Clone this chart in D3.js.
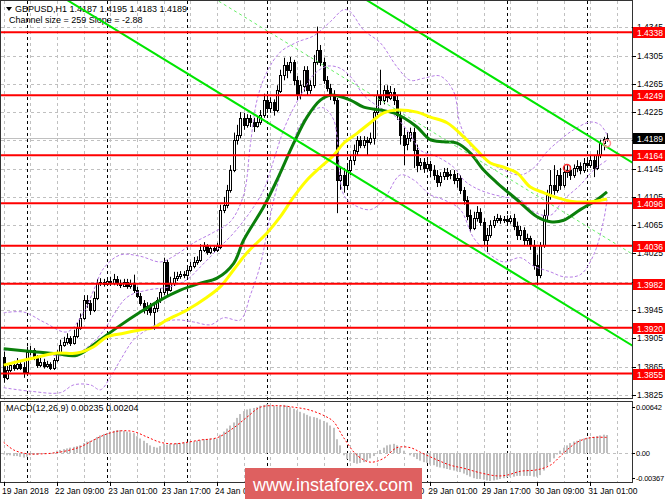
<!DOCTYPE html>
<html>
<head>
<meta charset="utf-8">
<script src="https://cdn.jsdelivr.net/npm/d3@7"></script>
<style>
body { margin: 0; background: #fff; }
svg { display: block; font-family: "Liberation Sans", Arial, sans-serif; }
</style>
</head>
<body>
<div id="chart"></div>
<script>
// GBPUSD H1 bars, 19 Jan 2018 17:00 .. 31 Jan 2018 06:00 (open = previous close)
var firstOpen = 1.3878;
var closes = [
 1.3849,1.3860,1.3867,1.3863,1.3869,1.3864,1.3857,1.3886,1.3888,1.3877,
 1.3867,1.3871,1.3866,1.3869,1.3863,1.3874,1.3886,1.3896,1.3900,1.3905,
 1.3898,1.3908,1.3920,1.3934,1.3959,1.3955,1.3945,1.3962,1.3983,1.3985,
 1.3982,1.3986,1.3983,1.3989,1.3983,1.3980,1.3985,1.3979,1.3982,1.3973,
 1.3965,1.3955,1.3945,1.3951,1.3942,1.3948,1.3959,1.3971,1.4013,1.3973,
 1.3983,1.3990,1.3993,1.3996,1.3995,1.4002,1.4007,1.4013,1.4016,1.4030,
 1.4035,1.4027,1.4033,1.4030,1.4035,1.4087,1.4094,1.4115,1.4143,1.4186,
 1.4193,1.4217,1.4207,1.4217,1.4211,1.4205,1.4211,1.4221,1.4242,1.4231,
 1.4239,1.4228,1.4256,1.4278,1.4292,1.4285,1.4296,1.4270,1.4249,1.4263,
 1.4285,1.4256,1.4263,1.4296,1.4313,1.4296,1.4270,1.4259,1.4249,1.4242,
 1.4129,1.4136,1.4122,1.4143,1.4157,1.4171,1.4186,1.4179,1.4186,1.4183,
 1.4188,1.4225,1.4249,1.4242,1.4256,1.4246,1.4254,1.4242,1.4221,1.4193,
 1.4179,1.4188,1.4197,1.4171,1.4150,1.4154,1.4146,1.4151,1.4143,1.4136,
 1.4126,1.4135,1.4140,1.4135,1.4137,1.4129,1.4132,1.4115,1.4101,1.4079,
 1.4061,1.4075,1.4084,1.4070,1.4044,1.4051,1.4065,1.4072,1.4075,1.4072,
 1.4074,1.4071,1.4075,1.4064,1.4051,1.4058,1.4044,1.4047,1.4037,1.4009,
 1.3995,1.4037,1.4079,1.4108,1.4122,1.4115,1.4136,1.4122,1.4140,1.4143,
 1.4136,1.4146,1.4149,1.4143,1.4153,1.4150,1.4157,1.4146,1.4164,1.4181,
 1.4187,1.4189
];
var highs = [
 1.3886,1.3866,1.3871,1.3873,1.3877,1.3874,1.3871,1.3893,1.3894,1.3891,
 1.3881,1.3877,1.3876,1.3873,1.3871,1.3877,1.3888,1.3903,1.3907,1.3912,
 1.3908,1.3917,1.3927,1.3940,1.3966,1.3966,1.3959,1.3971,1.3989,1.3990,
 1.3989,1.3990,1.3992,1.3996,1.3993,1.3988,1.3989,1.3989,1.3988,1.3995,
 1.3978,1.3969,1.3959,1.3956,1.3955,1.3956,1.3963,1.3976,1.4019,1.4016,
 1.3992,1.3999,1.3999,1.4000,1.4000,1.4007,1.4013,1.4020,1.4021,1.4038,
 1.4041,1.4038,1.4037,1.4037,1.4040,1.4094,1.4105,1.4122,1.4150,1.4196,
 1.4207,1.4225,1.4224,1.4222,1.4221,1.4217,1.4218,1.4228,1.4251,1.4248,
 1.4246,1.4243,1.4263,1.4285,1.4302,1.4296,1.4303,1.4299,1.4276,1.4270,
 1.4290,1.4290,1.4270,1.4306,1.4346,1.4320,1.4302,1.4276,1.4265,1.4256,
 1.4245,1.4146,1.4146,1.4150,1.4164,1.4179,1.4191,1.4191,1.4191,1.4190,
 1.4196,1.4231,1.4256,1.4285,1.4263,1.4263,1.4262,1.4259,1.4248,1.4228,
 1.4203,1.4197,1.4203,1.4203,1.4179,1.4160,1.4160,1.4157,1.4156,1.4150,
 1.4143,1.4140,1.4146,1.4146,1.4143,1.4143,1.4139,1.4136,1.4119,1.4106,
 1.4087,1.4084,1.4092,1.4089,1.4075,1.4061,1.4072,1.4078,1.4081,1.4079,
 1.4078,1.4079,1.4079,1.4081,1.4070,1.4064,1.4062,1.4053,1.4050,1.4044,
 1.4023,1.4041,1.4087,1.4115,1.4143,1.4150,1.4143,1.4146,1.4150,1.4150,
 1.4149,1.4151,1.4157,1.4154,1.4160,1.4160,1.4164,1.4163,1.4171,1.4186,
 1.4190,1.4195
];
var lows = [
 1.3842,1.3846,1.3857,1.3859,1.3860,1.3860,1.3849,1.3854,1.3881,1.3874,
 1.3863,1.3864,1.3862,1.3863,1.3860,1.3860,1.3871,1.3883,1.3893,1.3896,
 1.3894,1.3896,1.3905,1.3917,1.3931,1.3948,1.3938,1.3942,1.3959,1.3979,
 1.3978,1.3979,1.3979,1.3980,1.3979,1.3976,1.3978,1.3975,1.3975,1.3969,
 1.3962,1.3951,1.3940,1.3938,1.3937,1.3917,1.3942,1.3955,1.3966,1.3965,
 1.3971,1.3979,1.3986,1.3989,1.3990,1.3992,1.3999,1.4004,1.4009,1.4013,
 1.4027,1.4023,1.4024,1.4026,1.4027,1.4031,1.4082,1.4089,1.4111,1.4140,
 1.4179,1.4188,1.4200,1.4203,1.4204,1.4197,1.4203,1.4207,1.4217,1.4224,
 1.4224,1.4220,1.4225,1.4252,1.4270,1.4273,1.4280,1.4263,1.4242,1.4243,
 1.4254,1.4249,1.4251,1.4259,1.4292,1.4290,1.4265,1.4254,1.4242,1.4236,
 1.4082,1.4115,1.4111,1.4115,1.4136,1.4150,1.4164,1.4174,1.4174,1.4164,
 1.4179,1.4179,1.4221,1.4235,1.4236,1.4239,1.4242,1.4235,1.4214,1.4179,
 1.4150,1.4171,1.4183,1.4146,1.4140,1.4143,1.4139,1.4140,1.4133,1.4129,
 1.4119,1.4120,1.4129,1.4129,1.4130,1.4123,1.4118,1.4109,1.4094,1.4072,
 1.4055,1.4058,1.4070,1.4064,1.4037,1.4027,1.4047,1.4061,1.4068,1.4067,
 1.4068,1.4065,1.4067,1.4058,1.4044,1.4044,1.4037,1.4037,1.4030,1.4002,
 1.3980,1.3990,1.4033,1.4072,1.4101,1.4108,1.4111,1.4115,1.4118,1.4132,
 1.4129,1.4132,1.4140,1.4137,1.4139,1.4146,1.4146,1.4133,1.4143,1.4160,
 1.4171,1.4183
];

// support / resistance levels and the bid
var levels = [1.4338, 1.4249, 1.4164, 1.4096, 1.4036, 1.3982, 1.3920, 1.3855];
var bid = 1.4189;
var priceTicks = [1.4345, 1.4305, 1.4265, 1.4225, 1.4185, 1.4145, 1.4105, 1.4065, 1.4025, 1.3985, 1.3945, 1.3905, 1.3865, 1.3825];

// time axis
var timeLabels = ["19 Jan 2018", "22 Jan 09:00", "23 Jan 01:00", "23 Jan 17:00", "24 Jan 09:00", "25 Jan 01:00",
                  "25 Jan 17:00", "26 Jan 09:00", "29 Jan 01:00", "29 Jan 17:00", "30 Jan 09:00", "31 Jan 01:00"];
var timeLabelBars = [0, 16, 32, 48, 64, 80, 96, 112, 128, 144, 160, 176];
var daySeparators = [7, 31, 55, 79, 103, 127, 151, 175];

// moving averages at sample bars
var greenBars = [0, 9, 16, 22, 29, 34, 41, 47, 53, 59, 64, 69, 72, 78, 82, 87, 91, 95, 98, 104, 108, 113, 117, 120, 124, 128, 132, 136, 140, 144, 148, 154, 160, 164, 168, 173, 178, 181];
var greenMA = [1.3890, 1.3886, 1.3883, 1.3881, 1.3903, 1.3920, 1.3942, 1.3959, 1.3973, 1.3983, 1.3990, 1.4011, 1.4044, 1.4091, 1.4129, 1.4181, 1.4218, 1.4242, 1.4249, 1.4242, 1.4232, 1.4228, 1.4224, 1.4217, 1.4204, 1.4186, 1.4183, 1.4181, 1.4167, 1.4143, 1.4125, 1.4101, 1.4077, 1.4070, 1.4072, 1.4087, 1.4101, 1.4112];
var yellowBars = [0, 9, 16, 22, 27, 31, 36, 41, 45, 49, 55, 61, 65, 69, 73, 79, 83, 87, 91, 95, 99, 102, 106, 110, 114, 118, 124, 128, 133, 138, 142, 146, 150, 154, 158, 162, 166, 170, 176, 181];
var yellowMA = [1.3867, 1.3877, 1.3884, 1.3884, 1.3893, 1.3907, 1.3912, 1.3917, 1.3920, 1.3931, 1.3945, 1.3963, 1.3978, 1.4002, 1.4026, 1.4054, 1.4077, 1.4105, 1.4129, 1.4147, 1.4164, 1.4181, 1.4195, 1.4210, 1.4224, 1.4228, 1.4225, 1.4218, 1.4210, 1.4190, 1.4171, 1.4153, 1.4147, 1.4139, 1.4119, 1.4111, 1.4104, 1.4099, 1.4098, 1.4102];

// bollinger bands (purple dashed)
var upperBars = [0, 6, 12, 19, 24, 27, 30, 35, 41, 47, 51, 57, 63, 68, 72, 74, 76, 79, 83, 88, 93, 98, 102, 104, 108, 113, 118, 122, 126, 131, 135, 137, 141, 146, 150, 155, 159, 163, 167, 171, 176, 179, 181];
var upperBand = [1.3941, 1.3942, 1.3928, 1.3914, 1.3942, 1.3973, 1.4004, 1.4023, 1.4021, 1.4013, 1.4021, 1.4040, 1.4055, 1.4070, 1.4108, 1.4179, 1.4242, 1.4282, 1.4310, 1.4324, 1.4333, 1.4353, 1.4370, 1.4367, 1.4341, 1.4323, 1.4289, 1.4270, 1.4273, 1.4276, 1.4254, 1.4207, 1.4171, 1.4153, 1.4143, 1.4136, 1.4146, 1.4169, 1.4186, 1.4200, 1.4211, 1.4207, 1.4193];
var midBars = [0, 8, 17, 23, 29, 37, 43, 50, 55, 59, 64, 69, 74, 78, 81, 84, 87, 90, 93, 97, 101, 105, 108, 113, 117, 122, 125, 130, 135, 138, 141, 145, 150, 155, 159, 164, 168, 173, 177, 181];
var midBand = [1.3888, 1.3887, 1.3880, 1.3886, 1.3910, 1.3963, 1.3973, 1.3978, 1.3988, 1.4006, 1.4030, 1.4054, 1.4084, 1.4115, 1.4157, 1.4200, 1.4231, 1.4256, 1.4278, 1.4290, 1.4287, 1.4270, 1.4249, 1.4231, 1.4221, 1.4193, 1.4171, 1.4162, 1.4147, 1.4129, 1.4119, 1.4111, 1.4105, 1.4101, 1.4084, 1.4079, 1.4101, 1.4122, 1.4143, 1.4157];
var lowerBars = [0, 8, 17, 21, 26, 29, 32, 35, 39, 43, 47, 52, 57, 62, 66, 71, 74, 77, 80, 83, 86, 89, 93, 96, 99, 102, 105, 110, 114, 119, 123, 128, 132, 137, 141, 146, 150, 155, 159, 164, 168, 173, 177, 180, 181];
var lowerBand = [1.3835, 1.3830, 1.3828, 1.3839, 1.3839, 1.3832, 1.3850, 1.3874, 1.3903, 1.3917, 1.3927, 1.3931, 1.3928, 1.3924, 1.3934, 1.3931, 1.3966, 1.4009, 1.4079, 1.4136, 1.4171, 1.4207, 1.4228, 1.4231, 1.4214, 1.4108, 1.4094, 1.4087, 1.4101, 1.4136, 1.4129, 1.4108, 1.4101, 1.4087, 1.4047, 1.4023, 1.4013, 1.4019, 1.4007, 1.3999, 1.3992, 1.3995, 1.4023, 1.4072, 1.4101];

// regression channel: size 259 points, slope -2.88 points per bar
var channelBars = [0, 189];
var channelMid = [1.4568, 1.4023];
var channelHalf = 0.01295;

// alert marks
var markBars = [169, 181];
var markPrices = [1.4146, 1.4181];

// MACD(12,26,9) main per bar
var macd = [
 -0.0002,-0.0003,-0.0003,-0.0004,-0.0004,-0.0005,-0.0006,
 -0.0005,-0.0003,-0.0002,-0.0002,-0.0001,-0.0001,0.0000,0.0000,0.0001,
 0.0003,0.0004,0.0005,0.0006, 0.0007,0.0008,0.0009,0.0010,
 0.0013,0.0015,0.0016,0.0018, 0.0021,0.0023,0.0025,0.0026,
 0.0028,0.0029,0.0030,0.0030, 0.0029,0.0028,0.0027,0.0026,
 0.0022,0.0019,0.0016,0.0013, 0.0010,0.0008,0.0007,
 0.0009,0.0012,0.0011,0.0012,0.0012,
 0.0013,0.0013,0.0014,0.0014,0.0015,0.0015,0.0016,0.0017,
 0.0018,0.0018,0.0019,0.0019,0.0019,
 0.0024,0.0028,0.0032,0.0036,0.0040, 0.0046,0.0051,0.0055,
 0.0057,0.0058,0.0059,0.0060,0.0062,0.0063,
 0.00642,0.0063,0.0062,0.0061,0.0062,0.0063,0.0062,
 0.0060,0.0058,0.0056,0.0054,0.0052,
 0.0050,0.0048,0.0047,0.0046,0.0044,0.0042,0.0040,
 0.0036,0.0033, 0.0018,0.0010, -0.0003,-0.0008,
 -0.0011,-0.0013,-0.0014,-0.0013,-0.0012,-0.0010,
 -0.0007,-0.0004,-0.0001, 0.0004,0.0007,0.0010,0.0011,0.0012,
 0.0010,0.0007,0.0003,0.0000,-0.0003,-0.0005,
 -0.0008,-0.0010,-0.0012,-0.0013,-0.0015,-0.0016,-0.0018,
 -0.0019,-0.0020,-0.0021,-0.0022,-0.0023,-0.0024,-0.0025,
 -0.0027,-0.0029,-0.0031,-0.0033,-0.0034,-0.0034,-0.0035,-0.0036,-0.00367,-0.0036,-0.0035,-0.0034,
 -0.0033,-0.0032,-0.0031,-0.0031,-0.0030,-0.0030,-0.0030,-0.0030,
 -0.0030,-0.0031,-0.0031,-0.0029, -0.0023,-0.0017,-0.0012,-0.0007,
 -0.0002,0.0003,0.0007,0.0010, 0.0013,0.0015,0.0016,0.0018,
 0.0019,0.0020,0.0021,0.0021,0.0022, 0.0023,0.0024,0.00235
];
// MACD signal, read at sample bars
var signalBars = [0, 3, 7, 12, 15, 19, 23, 27, 31, 35, 39, 43, 47, 51, 55, 59, 64, 69, 73, 77, 82, 87, 92, 97, 99, 102, 106, 110, 114, 118, 122, 125, 130, 134, 138, 143, 148, 151, 155, 160, 164, 168, 172, 176, 181];
var signal = [0.0014, 0.0004, -0.0001, -0.0001, 0.0000, 0.0003, 0.0008, 0.0017, 0.0025, 0.0029, 0.0028, 0.0021, 0.0014, 0.0012, 0.0014, 0.0017, 0.0020, 0.0033, 0.0047, 0.0060, 0.0062, 0.0060, 0.0056, 0.0047, 0.0041, 0.0020, -0.0003, -0.0012, -0.0007, 0.0007, 0.0007, 0.0001, -0.0009, -0.0016, -0.0020, -0.0026, -0.0030, -0.0029, -0.0024, -0.0022, -0.0016, 0.0000, 0.0014, 0.0020, 0.00204];

var W = 665, H = 499;
var plotRight = 632;

var svg = d3.select("#chart").append("svg")
    .attr("width", W)
    .attr("height", H);

svg.append("rect").attr("width", W).attr("height", H).attr("fill", "#fff");

// scales
var x = d3.scaleLinear().domain([0, 181]).range([3.7, 607]);
var y = d3.scaleLinear().domain([1.3820, 1.4380]).range([398.3, 2.6]);
var yM = d3.scaleLinear().domain([-0.00367, 0.00642]).range([481, 404]);

function px(v) { return Math.round(v) + 0.5; }

svg.append("clipPath").attr("id", "clipPrice")
    .append("rect").attr("x", 1).attr("y", 1).attr("width", plotRight - 1).attr("height", 397);
svg.append("clipPath").attr("id", "clipMacd")
    .append("rect").attr("x", 1).attr("y", 402).attr("width", plotRight - 1).attr("height", 80);

// grid
var grid = svg.append("g");
grid.selectAll("line.h").data(priceTicks).enter().append("line")
    .attr("x1", 1).attr("x2", plotRight)
    .attr("y1", function(d) { return px(y(d)); })
    .attr("y2", function(d) { return px(y(d)); })
    .attr("stroke", "#c0c0c0").attr("stroke-dasharray", "3,3");
grid.append("line")
    .attr("x1", 1).attr("x2", plotRight)
    .attr("y1", px(yM(0))).attr("y2", px(yM(0)))
    .attr("stroke", "#c0c0c0").attr("stroke-dasharray", "3,3");
var vgrid = d3.range(0, 189, 8);
grid.selectAll("line.v").data(vgrid).enter().append("line")
    .attr("x1", function(d) { return px(x(d)); })
    .attr("x2", function(d) { return px(x(d)); })
    .attr("y1", 1).attr("y2", 482)
    .attr("stroke", "#c0c0c0").attr("stroke-dasharray", "3,3");
grid.selectAll("line.sep").data(daySeparators).enter().append("line")
    .attr("x1", function(d) { return px(x(d)); })
    .attr("x2", function(d) { return px(x(d)); })
    .attr("y1", 1).attr("y2", 482)
    .attr("stroke", "#000").attr("stroke-dasharray", "3,3");

// header text
svg.append("path").attr("d", "M6,7 L12,7 L9,11 Z").attr("fill", "#000");
svg.append("text").attr("x", 15).attr("y", 12).attr("font-size", 9).attr("fill", "#000")
    .text("GBPUSD,H1  1.4187 1.4195 1.4183 1.4189");
svg.append("text").attr("x", 9).attr("y", 23).attr("font-size", 9).attr("fill", "#000")
    .text("Channel size = 259 Slope = -2.88");

var pricePlot = svg.append("g").attr("clip-path", "url(#clipPrice)");

// bid line
pricePlot.append("line")
    .attr("x1", 1).attr("x2", plotRight)
    .attr("y1", px(y(bid))).attr("y2", px(y(bid)))
    .attr("stroke", "#c0c0c0");

// candles
var bars = closes.map(function(c, i) {
    var o = i == 0 ? firstOpen : closes[i - 1];
    return { i: i, o: o, c: c, h: Math.max(highs[i], o, c), l: Math.min(lows[i], o, c) };
});
var candle = pricePlot.selectAll("g.candle").data(bars).enter().append("g");
candle.append("line")
    .attr("x1", function(d) { return px(x(d.i)); })
    .attr("x2", function(d) { return px(x(d.i)); })
    .attr("y1", function(d) { return y(d.h); })
    .attr("y2", function(d) { return y(d.l); })
    .attr("stroke", "#000");
candle.append("rect")
    .attr("x", function(d) { return Math.round(x(d.i)) - 0.5; })
    .attr("width", 2)
    .attr("y", function(d) { return Math.round(y(Math.max(d.o, d.c))) + 0.5; })
    .attr("height", function(d) { return Math.max(1, Math.round(Math.abs(y(d.o) - y(d.c)))); })
    .attr("fill", function(d) { return d.c >= d.o ? "#fff" : "#000"; })
    .attr("stroke", "#000");

// bands
function sampled(bs, vs) {
    return bs.map(function(b, k) { return [x(b), y(vs[k])]; });
}
var smooth = d3.line().curve(d3.curveCatmullRom);
[[upperBars, upperBand], [midBars, midBand], [lowerBars, lowerBand]].forEach(function(b) {
    pricePlot.append("path").attr("d", smooth(sampled(b[0], b[1])))
        .attr("fill", "none").attr("stroke", "#b77ee6").attr("stroke-dasharray", "3,2");
});

// moving averages
pricePlot.append("path").attr("d", smooth(sampled(greenBars, greenMA)))
    .attr("fill", "none").attr("stroke", "#0a7f0a").attr("stroke-width", 3);
pricePlot.append("path").attr("d", smooth(sampled(yellowBars, yellowMA)))
    .attr("fill", "none").attr("stroke", "#ffff00").attr("stroke-width", 3);

// channel
var chan = [
    { off: 0, dash: "3,3", w: 1, col: "#66ee66" },
    { off: channelHalf, dash: null, w: 2, col: "#00e600" },
    { off: -channelHalf, dash: null, w: 2, col: "#00e600" }
];
pricePlot.selectAll("line.chan").data(chan).enter().append("line")
    .attr("x1", x(channelBars[0])).attr("x2", x(channelBars[1]))
    .attr("y1", function(d) { return y(channelMid[0] + d.off); })
    .attr("y2", function(d) { return y(channelMid[1] + d.off); })
    .attr("stroke", function(d) { return d.col; })
    .attr("stroke-width", function(d) { return d.w; })
    .attr("stroke-dasharray", function(d) { return d.dash; });

// levels
pricePlot.selectAll("line.lvl").data(levels).enter().append("line")
    .attr("x1", 1).attr("x2", plotRight)
    .attr("y1", function(d) { return y(d); })
    .attr("y2", function(d) { return y(d); })
    .attr("stroke", "#ff0000").attr("stroke-width", 2);

// alert marks
pricePlot.selectAll("circle.mark").data(markBars).enter().append("circle")
    .attr("cx", function(d) { return x(d); })
    .attr("cy", function(d, k) { return y(markPrices[k]); })
    .attr("r", 3.5)
    .attr("fill", "none")
    .attr("stroke", function(d, k) { return k == 0 ? "#ff3030" : "#ff9090"; })
    .attr("stroke-width", 1.5);

// MACD panel
var macdPlot = svg.append("g").attr("clip-path", "url(#clipMacd)");
macdPlot.selectAll("rect").data(macd).enter().append("rect")
    .attr("x", function(d, i) { return Math.round(x(i)) - 1; })
    .attr("width", 2)
    .attr("y", function(d) { return Math.min(yM(d), yM(0)); })
    .attr("height", function(d) { return Math.abs(yM(d) - yM(0)); })
    .attr("fill", "#c0c0c0");
macdPlot.append("path")
    .attr("d", d3.line().curve(d3.curveCatmullRom)(signalBars.map(function(b, k) { return [x(b), yM(signal[k])]; })))
    .attr("fill", "none").attr("stroke", "#ff0000").attr("stroke-dasharray", "2,2");
svg.append("text").attr("x", 6).attr("y", 411).attr("font-size", 9).attr("fill", "#000")
    .text("MACD(12,26,9) 0.00235 0.00204");

// frames
svg.append("rect").attr("x", 0.5).attr("y", 0.5).attr("width", plotRight).attr("height", 398)
    .attr("fill", "none").attr("stroke", "#333");
svg.append("rect").attr("x", 0.5).attr("y", 401.5).attr("width", plotRight).attr("height", 81)
    .attr("fill", "none").attr("stroke", "#333");

// right axis
var axisR = svg.append("g");
axisR.selectAll("line.t").data(priceTicks).enter().append("line")
    .attr("x1", plotRight).attr("x2", plotRight + 4)
    .attr("y1", function(d) { return px(y(d)); })
    .attr("y2", function(d) { return px(y(d)); })
    .attr("stroke", "#000");
axisR.selectAll("text.t").data(priceTicks).enter().append("text")
    .attr("x", 637).attr("y", function(d) { return y(d) + 3; })
    .attr("font-size", 8.5).attr("fill", "#000")
    .text(function(d) { return d.toFixed(4); });

var macdTicks = [0.00642, 0, -0.00367];
var macdTickText = ["0.00642", "0.00", "-0.00367"];
var macdTickY = [yM(0.00642) + 3, yM(0), yM(-0.00367) - 3];
axisR.selectAll("text.m").data(macdTicks).enter().append("text")
    .attr("x", 636).attr("y", function(d, k) { return macdTickY[k] + 3; })
    .attr("font-size", 7.5).attr("letter-spacing", -0.2).attr("fill", "#000")
    .text(function(d, k) { return macdTickText[k]; });
axisR.selectAll("line.m").data(macdTicks).enter().append("line")
    .attr("x1", plotRight).attr("x2", plotRight + 3)
    .attr("y1", function(d, k) { return px(macdTickY[k]); })
    .attr("y2", function(d, k) { return px(macdTickY[k]); })
    .attr("stroke", "#000");

// level tags
var tags = axisR.selectAll("g.tag").data(levels.concat([bid])).enter().append("g");
tags.append("rect")
    .attr("x", plotRight + 1).attr("width", W - plotRight - 1)
    .attr("y", function(d) { return Math.round(y(d)) - 5; })
    .attr("height", 11)
    .attr("fill", function(d) { return d == bid ? "#000" : "#ff0000"; });
tags.append("text")
    .attr("x", 637).attr("y", function(d) { return Math.round(y(d)) + 4; })
    .attr("font-size", 8.5).attr("fill", "#fff")
    .text(function(d) { return d.toFixed(4); });

// bottom axis
var axisB = svg.append("g");
axisB.selectAll("line").data(timeLabelBars).enter().append("line")
    .attr("x1", function(d) { return px(x(d)); })
    .attr("x2", function(d) { return px(x(d)); })
    .attr("y1", 482).attr("y2", 486)
    .attr("stroke", "#000");
axisB.selectAll("text").data(timeLabelBars).enter().append("text")
    .attr("x", function(d) { return Math.max(2, x(d) - 2); })
    .attr("y", 494)
    .attr("font-size", 8.5).attr("fill", "#000")
    .text(function(d, k) { return timeLabels[k]; });

// watermark
svg.append("rect").attr("x", 245).attr("y", 468).attr("width", 177).attr("height", 31)
    .attr("fill", "rgb(222,96,96)");
svg.append("text").attr("x", 333).attr("y", 491).attr("text-anchor", "middle")
    .attr("font-size", 18).attr("fill", "#fff")
    .text("www.instaforex.com");
</script>
</body>
</html>
